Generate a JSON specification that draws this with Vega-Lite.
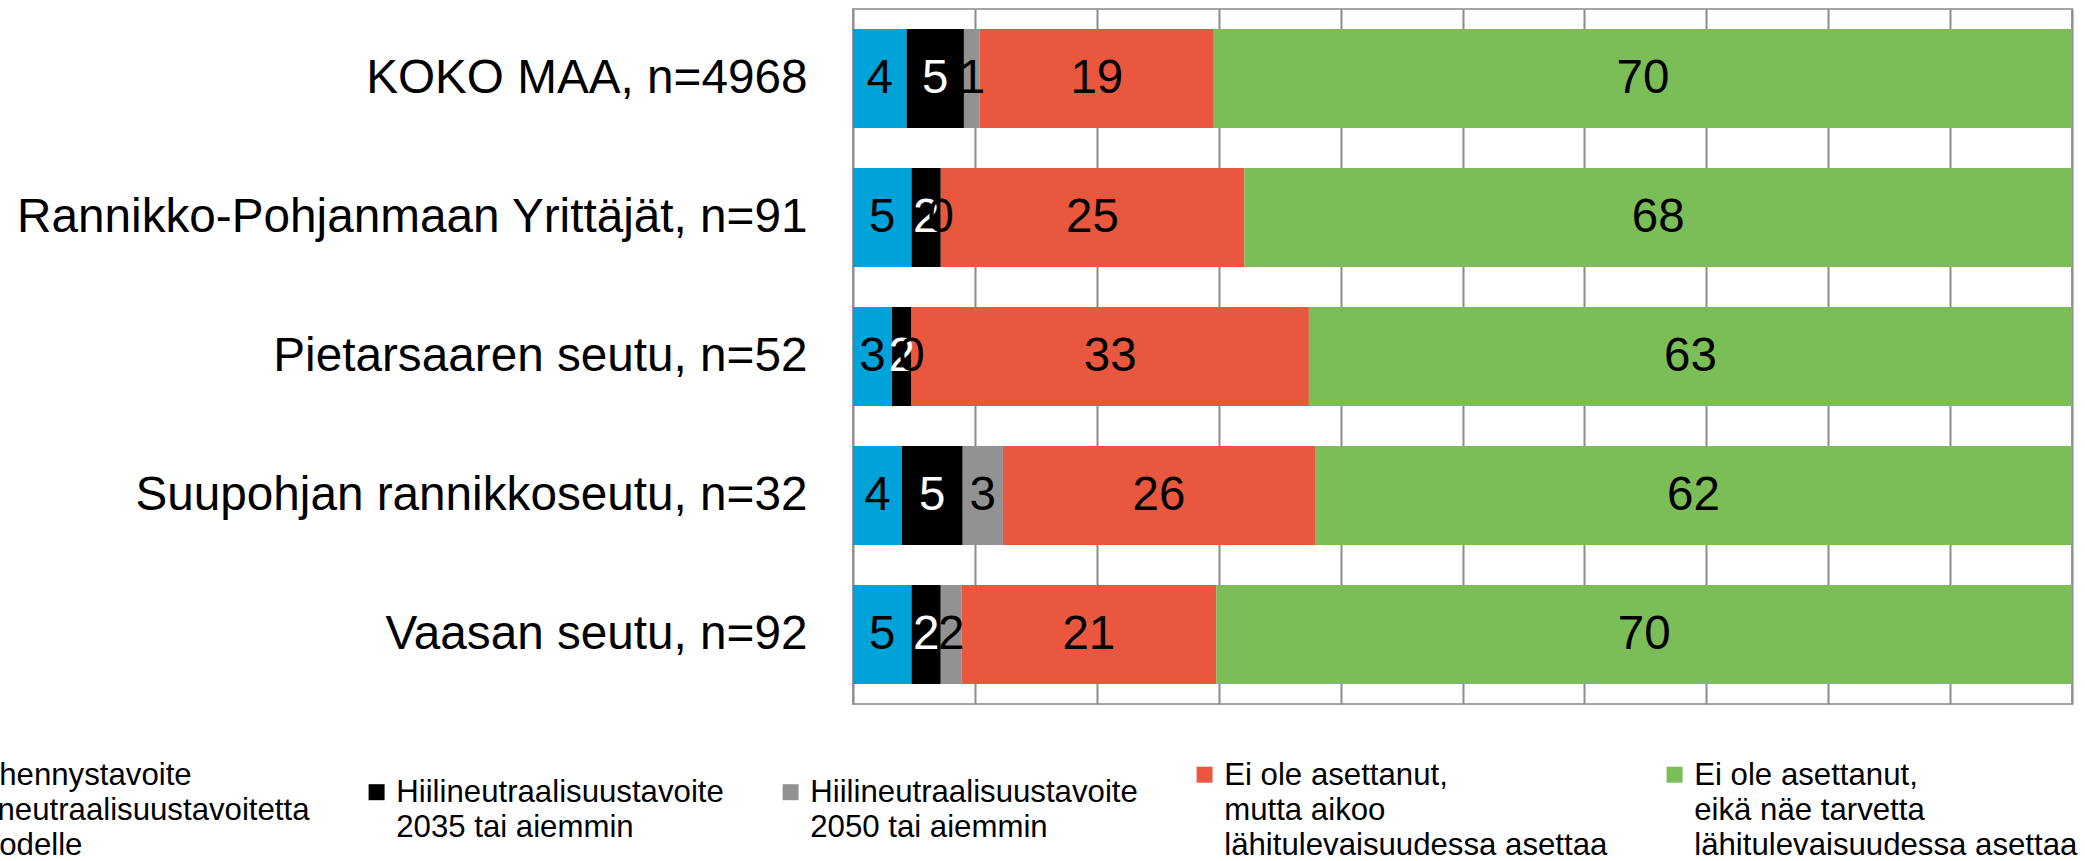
{
  "$schema": "https://vega.github.io/schema/vega-lite/v6.json",
  "width": 1219,
  "height": 695,
  "autosize": {"type": "none"},
  "padding": {"left": 853, "top": 9, "right": 13, "bottom": 157},
  "background": "white",
  "config": {
    "font": "Liberation Sans",
    "view": {"stroke": "#a6a6a6", "strokeWidth": 2}
  },
  "data": {
    "values": [
      {"region": "KOKO MAA, n=4968", "cat": "Päästövähennystavoite|ilman hiilineutraalisuustavoitetta|tietylle vuodelle", "pct": 4.4},
      {"region": "KOKO MAA, n=4968", "cat": "Hiilineutraalisuustavoite|2035 tai aiemmin", "pct": 4.7},
      {"region": "KOKO MAA, n=4968", "cat": "Hiilineutraalisuustavoite|2050 tai aiemmin", "pct": 1.3},
      {"region": "KOKO MAA, n=4968", "cat": "Ei ole asettanut,|mutta aikoo|lähitulevaisuudessa asettaa", "pct": 19.2},
      {"region": "KOKO MAA, n=4968", "cat": "Ei ole asettanut,|eikä näe tarvetta|lähitulevaisuudessa asettaa", "pct": 70.4},
      {"region": "Rannikko-Pohjanmaan Yrittäjät, n=91", "cat": "Päästövähennystavoite|ilman hiilineutraalisuustavoitetta|tietylle vuodelle", "pct": 4.8},
      {"region": "Rannikko-Pohjanmaan Yrittäjät, n=91", "cat": "Hiilineutraalisuustavoite|2035 tai aiemmin", "pct": 2.4},
      {"region": "Rannikko-Pohjanmaan Yrittäjät, n=91", "cat": "Hiilineutraalisuustavoite|2050 tai aiemmin", "pct": 0},
      {"region": "Rannikko-Pohjanmaan Yrittäjät, n=91", "cat": "Ei ole asettanut,|mutta aikoo|lähitulevaisuudessa asettaa", "pct": 24.9},
      {"region": "Rannikko-Pohjanmaan Yrittäjät, n=91", "cat": "Ei ole asettanut,|eikä näe tarvetta|lähitulevaisuudessa asettaa", "pct": 67.9},
      {"region": "Pietarsaaren seutu, n=52", "cat": "Päästövähennystavoite|ilman hiilineutraalisuustavoitetta|tietylle vuodelle", "pct": 3.2},
      {"region": "Pietarsaaren seutu, n=52", "cat": "Hiilineutraalisuustavoite|2035 tai aiemmin", "pct": 1.6},
      {"region": "Pietarsaaren seutu, n=52", "cat": "Hiilineutraalisuustavoite|2050 tai aiemmin", "pct": 0},
      {"region": "Pietarsaaren seutu, n=52", "cat": "Ei ole asettanut,|mutta aikoo|lähitulevaisuudessa asettaa", "pct": 32.6},
      {"region": "Pietarsaaren seutu, n=52", "cat": "Ei ole asettanut,|eikä näe tarvetta|lähitulevaisuudessa asettaa", "pct": 62.6},
      {"region": "Suupohjan rannikkoseutu, n=32", "cat": "Päästövähennystavoite|ilman hiilineutraalisuustavoitetta|tietylle vuodelle", "pct": 4.0},
      {"region": "Suupohjan rannikkoseutu, n=32", "cat": "Hiilineutraalisuustavoite|2035 tai aiemmin", "pct": 5.0},
      {"region": "Suupohjan rannikkoseutu, n=32", "cat": "Hiilineutraalisuustavoite|2050 tai aiemmin", "pct": 3.3},
      {"region": "Suupohjan rannikkoseutu, n=32", "cat": "Ei ole asettanut,|mutta aikoo|lähitulevaisuudessa asettaa", "pct": 25.6},
      {"region": "Suupohjan rannikkoseutu, n=32", "cat": "Ei ole asettanut,|eikä näe tarvetta|lähitulevaisuudessa asettaa", "pct": 62.1},
      {"region": "Vaasan seutu, n=92", "cat": "Päästövähennystavoite|ilman hiilineutraalisuustavoitetta|tietylle vuodelle", "pct": 4.8},
      {"region": "Vaasan seutu, n=92", "cat": "Hiilineutraalisuustavoite|2035 tai aiemmin", "pct": 2.4},
      {"region": "Vaasan seutu, n=92", "cat": "Hiilineutraalisuustavoite|2050 tai aiemmin", "pct": 1.7},
      {"region": "Vaasan seutu, n=92", "cat": "Ei ole asettanut,|mutta aikoo|lähitulevaisuudessa asettaa", "pct": 20.9},
      {"region": "Vaasan seutu, n=92", "cat": "Ei ole asettanut,|eikä näe tarvetta|lähitulevaisuudessa asettaa", "pct": 70.2}
    ]
  },
  "transform": [
    {"window": [{"op": "row_number", "as": "rank"}], "groupby": ["region"]},
    {"stack": "pct", "groupby": ["region"], "sort": [{"field": "rank", "order": "ascending"}], "as": ["x0", "x1"]}
  ],
  "encoding": {
    "y": {
      "field": "region",
      "type": "nominal",
      "sort": null,
      "scale": {"paddingInner": 0.288, "paddingOuter": 0.144},
      "axis": {
        "title": null,
        "ticks": false,
        "domain": false,
        "grid": false,
        "labelFont": "Liberation Sans",
        "labelFontSize": 47.7,
        "labelColor": "#000000",
        "labelPadding": 46,
        "labelLimit": 1200
      }
    }
  },
  "layer": [
    {
      "mark": {"type": "bar"},
      "encoding": {
        "x": {
          "field": "x0",
          "type": "quantitative",
          "scale": {"domain": [0, 100], "nice": false},
          "axis": {
            "title": null,
            "labels": false,
            "ticks": false,
            "domain": false,
            "grid": true,
            "values": [0, 10, 20, 30, 40, 50, 60, 70, 80, 90, 100],
            "gridColor": "#8c8c8c",
            "gridWidth": 2,
            "gridOpacity": 1
          }
        },
        "x2": {"field": "x1"},
        "color": {
          "field": "cat",
          "type": "nominal",
          "scale": {
            "domain": [
              "Päästövähennystavoite|ilman hiilineutraalisuustavoitetta|tietylle vuodelle",
              "Hiilineutraalisuustavoite|2035 tai aiemmin",
              "Hiilineutraalisuustavoite|2050 tai aiemmin",
              "Ei ole asettanut,|mutta aikoo|lähitulevaisuudessa asettaa",
              "Ei ole asettanut,|eikä näe tarvetta|lähitulevaisuudessa asettaa"
            ],
            "range": ["#00a2da", "#000000", "#929292", "#e9573f", "#7bbd56"]
          },
          "legend": {
            "orient": "none",
            "legendX": -1019,
            "legendY": 750,
            "direction": "horizontal",
            "columns": 5,
            "columnPadding": 51,
            "padding": 0,
            "title": null,
            "symbolType": "square",
            "symbolSize": 256,
            "symbolStrokeWidth": 0,
            "labelFont": "Liberation Sans",
            "labelFontSize": 31.2,
            "labelColor": "#000000",
            "labelOffset": 4,
            "labelLimit": 1200,
            "labelBaseline": "alphabetic",
            "labelExpr": "split(datum.label, '|')",
            "encode": {
              "labels": {"update": {"dy": {"value": 10}, "lineHeight": {"value": 35}}}
            }
          }
        }
      }
    },
    {
      "transform": [
        {"fold": ["x0", "x1"], "as": ["edge", "pos"]},
        {"aggregate": [{"op": "mean", "field": "pos", "as": "mid"}], "groupby": ["region", "cat", "pct"]}
      ],
      "mark": {"type": "text", "font": "Liberation Sans", "fontSize": 47.5, "baseline": "middle", "align": "center"},
      "encoding": {
        "x": {"field": "mid", "type": "quantitative"},
        "text": {"field": "pct", "type": "quantitative", "format": ".0f"},
        "color": {
          "condition": {"test": "indexof(datum.cat, '2035') >= 0", "value": "#ffffff"},
          "value": "#000000"
        }
      }
    }
  ]
}
